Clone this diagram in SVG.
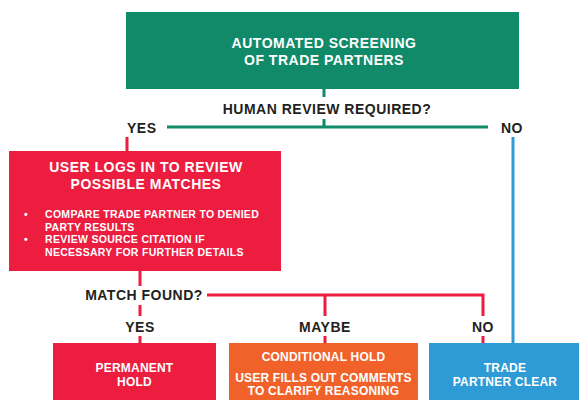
<svg xmlns="http://www.w3.org/2000/svg" width="579" height="400" viewBox="0 0 579 400">
<style>
text{font-family:"Liberation Sans","Open Sans",Arial,sans-serif;font-weight:bold}
.w{fill:#fff;text-anchor:middle}
.t{font-size:14px;letter-spacing:0.5px}
.s{font-size:12px;letter-spacing:0.2px}
.k{fill:#231f20;font-size:14px;letter-spacing:0.5px}
.m{text-anchor:middle}
.g{stroke:#118a6a;stroke-width:3;fill:none}
.r{stroke:#ec1d3f;stroke-width:3;fill:none}
.b{stroke:#2e9bd6;stroke-width:3;fill:none}
</style>
<rect width="579" height="400" fill="#fff"/>
<g id="connectors">
<path class="g" d="M324 89V97M324 119V127M167 127H488"/>
<path class="r" d="M127 137V151M140 271V286M140 305V316M207 295H483V316M325 295V316M140 336V343M325 336V343M483 336V343"/>
<path class="b" d="M513 137V343"/>
</g>
<g id="screening">
<rect x="126" y="12" width="393" height="77" fill="#118a6a"/>
<text class="w t" x="324" y="48">AUTOMATED SCREENING</text>
<text class="w t" x="324" y="65">OF TRADE PARTNERS</text>
</g>
<g id="q1"><text class="k m" x="327" y="114">HUMAN REVIEW REQUIRED?</text></g>
<g id="yes1"><text class="k" x="127" y="133">YES</text></g>
<g id="no1"><text class="k" x="501" y="133">NO</text></g>
<g id="review">
<rect x="9" y="151" width="272" height="120" fill="#ec1d3f"/>
<text class="w t" x="146" y="172">USER LOGS IN TO REVIEW</text>
<text class="w t" x="146" y="189">POSSIBLE MATCHES</text>
<g fill="#fff" font-size="10.5" letter-spacing="0.3">
<text x="24" y="218">•</text>
<text x="45" y="218">COMPARE TRADE PARTNER TO DENIED</text>
<text x="45" y="231">PARTY RESULTS</text>
<text x="24" y="243">•</text>
<text x="45" y="243">REVIEW SOURCE CITATION IF</text>
<text x="45" y="256">NECESSARY FOR FURTHER DETAILS</text>
</g>
</g>
<g id="q2"><text class="k m" x="144" y="300">MATCH FOUND?</text></g>
<g id="yes2"><text class="k m" x="140" y="332">YES</text></g>
<g id="maybe2"><text class="k m" x="325" y="332">MAYBE</text></g>
<g id="no2"><text class="k m" x="483" y="332">NO</text></g>
<g id="permanent">
<rect x="53" y="343" width="163" height="60" fill="#ec1d3f"/>
<text class="w s" x="134.5" y="372">PERMANENT</text>
<text class="w s" x="134.5" y="386">HOLD</text>
</g>
<g id="conditional">
<rect x="229" y="343" width="189" height="60" fill="#f1622b"/>
<text class="w s" x="323.5" y="361">CONDITIONAL HOLD</text>
<text class="w s" x="323.5" y="382">USER FILLS OUT COMMENTS</text>
<text class="w s" x="323.5" y="395">TO CLARIFY REASONING</text>
</g>
<g id="clear">
<rect x="429" y="343" width="152" height="60" fill="#2e9bd6"/>
<text class="w s" x="505" y="372">TRADE</text>
<text class="w s" x="505" y="386">PARTNER CLEAR</text>
</g>
</svg>
